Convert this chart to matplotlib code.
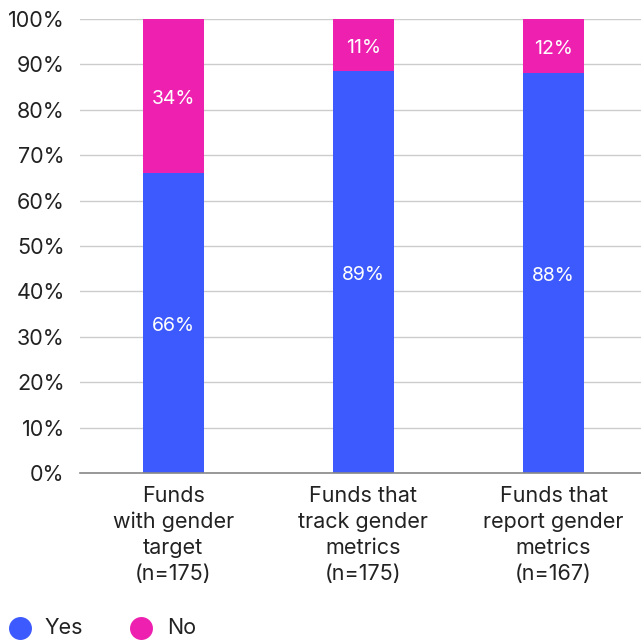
import matplotlib
matplotlib.use("Agg")
import matplotlib.pyplot as plt
from matplotlib.lines import Line2D

categories = ["Funds\nwith gender\ntarget\n(n=175)",
              "Funds that\ntrack gender\nmetrics\n(n=175)",
              "Funds that\nreport gender\nmetrics\n(n=167)"]
yes_vals = [66, 88.5, 88]
no_vals = [34, 11.5, 12]
yes_labels = ["66%", "89%", "88%"]
no_labels = ["34%", "11%", "12%"]
yticks = [0, 10, 20, 30, 40, 50, 60, 70, 80, 90, 100]
legend_labels = ["Yes", "No"]

YES_C = "#3d5afe"
NO_C = "#ee20b0"
W, H = 641, 640

plt.rcParams['font.family'] = ['Inter', 'DejaVu Sans']

fig = plt.figure(figsize=(6.41, 6.40), dpi=100)
ax = fig.add_axes([80/W, 1-473/H, (W-80)/W, (473-19)/H])

x = list(range(len(categories)))
w = 0.32
ax.bar(x, yes_vals, width=w, color=YES_C, zorder=3)
ax.bar(x, no_vals, width=w, bottom=yes_vals, color=NO_C, zorder=3)

for i in x:
    ax.text(i, yes_vals[i] / 2 - 0.6, yes_labels[i], ha='center', va='center',
            color='white', fontsize=14, zorder=4)
    ax.text(i, yes_vals[i] + no_vals[i] / 2 - 0.6, no_labels[i], ha='center', va='center',
            color='white', fontsize=14, zorder=4)

ax.set_ylim(0, 100)
ax.set_xlim(-0.49, 2.46)
ax.set_yticks(yticks)
ax.set_yticklabels([f"{t}%" for t in yticks], fontsize=15.5, color='#222222')
ax.set_xticks(x)
ax.set_xticklabels(categories, fontsize=15.5, color='#222222', linespacing=1.38)
ax.tick_params(axis='both', length=0)
ax.tick_params(axis='y', pad=11)
ax.tick_params(axis='x', pad=9)
ax.grid(axis='y', color='#cccccc', linewidth=1, zorder=0)
for s in ['top', 'right', 'left']:
    ax.spines[s].set_visible(False)
ax.spines['bottom'].set_color('#888888')
ax.spines['bottom'].set_linewidth(1.2)
ax.spines['bottom'].set_zorder(5)

# legend (manual placement)
leg_y = 1 - 628/H
for (cx, tx), lab, col in zip([(20, 45), (141, 167)], legend_labels, [YES_C, NO_C]):
    fig.add_artist(Line2D([cx/W], [leg_y], marker='o', markersize=15.5, color=col,
                          linestyle='', transform=fig.transFigure))
    fig.text(tx/W, leg_y, lab, ha='left', va='center', fontsize=15.5, color='#222222')

fig.savefig("out.png", dpi=100, facecolor='white')
